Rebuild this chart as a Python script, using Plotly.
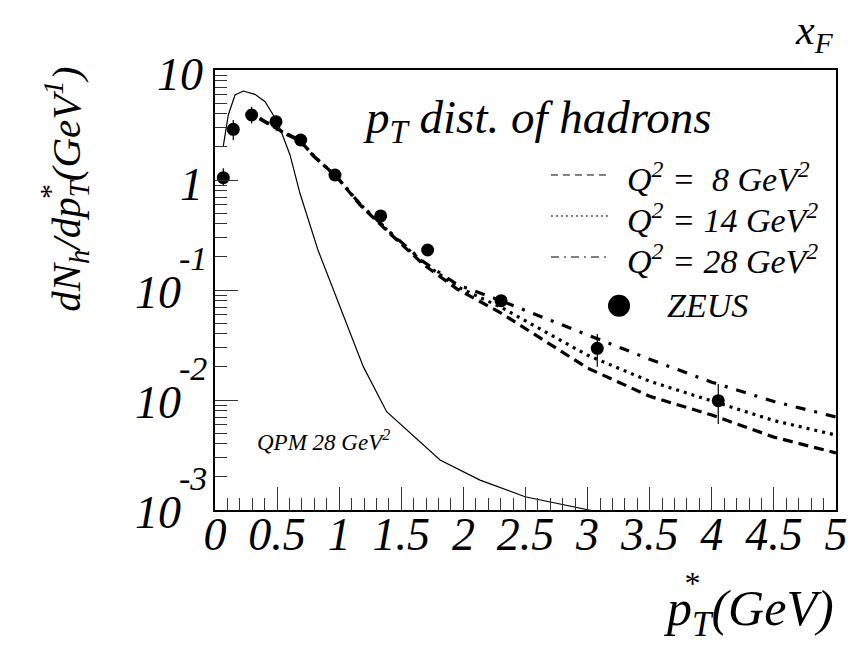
import plotly.graph_objects as go
import numpy as np

# ---------------- data ----------------
# ZEUS measured points
zeus_x = [0.067, 0.147, 0.295, 0.491, 0.690, 0.966, 1.334, 1.712, 2.303, 3.078, 4.052]
zeus_y = [1.05, 2.89, 3.90, 3.39, 2.31, 1.11, 0.471, 0.231, 0.080, 0.0295, 0.00986]
zeus_err_plus = [0.23, 0.62, 0.74, 0.45, 0.30, 0.12, 0.05, 0.02, 0.006, 0.0103, 0.0041]
zeus_err_minus = [0.15, 0.58, 0.63, 0.38, 0.25, 0.10, 0.04, 0.018, 0.005, 0.0094, 0.0038]

# model curves
curve_x = [0.36, 0.54, 0.68, 0.80, 0.98, 1.17, 1.41, 1.68, 1.95, 2.30, 3.0, 3.5, 4.0, 4.5, 5.0]
q2_8_y = [3.64, 2.75, 2.31, 1.63, 1.07, 0.59, 0.325, 0.170, 0.102, 0.062, 0.0195, 0.0108, 0.0073, 0.0046, 0.0033]
q2_14_y = [3.64, 2.75, 2.31, 1.63, 1.07, 0.60, 0.330, 0.176, 0.107, 0.070, 0.0255, 0.0148, 0.0098, 0.0065, 0.0048]
q2_28_y = [3.60, 2.72, 2.28, 1.62, 1.07, 0.60, 0.335, 0.180, 0.112, 0.080, 0.0390, 0.0235, 0.0145, 0.0097, 0.0070]

# QPM 28 GeV^2 curve
qpm_x = [0.067, 0.107, 0.161, 0.228, 0.322, 0.403, 0.469, 0.523, 0.604, 0.684, 0.829,
         1.006, 1.194, 1.382, 1.812, 2.134, 2.496, 2.993, 3.3]
qpm_y = [2.04, 3.90, 5.93, 6.44, 6.01, 5.15, 3.90, 2.95, 1.69, 0.757, 0.231,
         0.0705, 0.0201, 0.00783, 0.00285, 0.00187, 0.00132, 0.00101, 0.00085]

x_tick_vals = [0, 0.5, 1, 1.5, 2, 2.5, 3, 3.5, 4, 4.5, 5]
x_tick_text = ["0", "0.5", "1", "1.5", "2", "2.5", "3", "3.5", "4", "4.5", "5"]
y_decades = [1, 0, -1, -2, -3]

legend_labels = ["<i>Q<sup>2</sup> =  8 GeV<sup>2</sup></i>",
                 "<i>Q<sup>2</sup> = 14 GeV<sup>2</sup></i>",
                 "<i>Q<sup>2</sup> = 28 GeV<sup>2</sup></i>"]

FONT = "'Liberation Serif', 'Times New Roman', Times, 'DejaVu Serif', serif"

fig = go.Figure()

fig.add_trace(go.Scatter(x=qpm_x, y=qpm_y, mode="lines",
                         line=dict(color="black", width=1.2)))
fig.add_trace(go.Scatter(x=curve_x, y=q2_8_y, mode="lines",
                         line=dict(color="black", width=3.2, dash="10px,6px")))
fig.add_trace(go.Scatter(x=curve_x, y=q2_14_y, mode="lines",
                         line=dict(color="black", width=3.2, dash="3px,5px")))
fig.add_trace(go.Scatter(x=curve_x, y=q2_28_y, mode="lines",
                         line=dict(color="black", width=3.2, dash="10px,9px,3px,9px")))
fig.add_trace(go.Scatter(x=zeus_x, y=zeus_y, mode="markers",
                         marker=dict(color="black", size=13, symbol="circle"),
                         error_y=dict(type="data", symmetric=False, array=zeus_err_plus,
                                      arrayminus=zeus_err_minus, width=0,
                                      thickness=1.2, color="black")))

# minor tick positions for log axis
y_minor = [m * 10.0 ** e for e in range(-3, 1) for m in range(2, 10)]

fig.update_layout(
    width=853, height=646, autosize=False,
    margin=dict(l=215, r=17, t=70, b=136, pad=0),
    plot_bgcolor="white", paper_bgcolor="white",
    showlegend=False,
    xaxis=dict(range=[0, 5], tickmode="array", tickvals=x_tick_vals, ticktext=x_tick_text,
               ticks="inside", ticklen=23, tickwidth=1, tickcolor="#333",
               minor=dict(dtick=0.1, tick0=0, ticks="inside", ticklen=12,
                          tickwidth=1, tickcolor="#333"),
               showline=True, linecolor="black", linewidth=1.5, mirror=True,
               showgrid=False, zeroline=False, automargin=False, ticklabelstandoff=-17,
               tickfont=dict(family=FONT, size=46, style="italic", color="black")),
    yaxis=dict(type="log", range=[-3, 1], tickmode="array",
               tickvals=[10.0 ** d for d in y_decades],
               ticks="inside", ticklen=23, tickwidth=1, tickcolor="#333",
               minor=dict(tickmode="array", tickvals=y_minor, ticks="inside", ticklen=12,
                          tickwidth=1, tickcolor="#333"),
               showticklabels=False, automargin=False,
               showline=True, linecolor="black", linewidth=1.5, mirror=True,
               showgrid=False, zeroline=False),
)

ann = []
# y tick labels ROOT style
for d in y_decades:
    if d >= 0:
        ann.append(dict(x=-0.01, y=d, xref="paper", yref="y", text="<i>%d</i>" % (10 ** d),
                        xanchor="right", yanchor="middle", yshift=-4, xshift=-4, showarrow=False,
                        font=dict(family=FONT, size=46, color="black")))
    else:
        ann.append(dict(x=-0.01, y=d, xref="paper", yref="y", text="<i>10</i>",
                        xanchor="right", yanchor="middle", yshift=-2, xshift=-26, showarrow=False,
                        font=dict(family=FONT, size=46, color="black")))
        ann.append(dict(x=-0.01, y=d, xref="paper", yref="y", text="<i>%d</i>" % d,
                        xanchor="right", yanchor="middle", yshift=32, showarrow=False,
                        font=dict(family=FONT, size=34, color="black")))

# title inside frame
ann.append(dict(x=0.235, y=0.886, xref="paper", yref="paper",
                text="<i>p<sub>T</sub> dist. of hadrons</i>", xanchor="left", yanchor="middle",
                showarrow=False, font=dict(family=FONT, size=47, color="black")))
# x_F
ann.append(dict(x=1.0, y=1.085, xref="paper", yref="paper", text="<i>x<sub>F</sub></i>",
                xanchor="right", yanchor="middle", showarrow=False,
                font=dict(family=FONT, size=42, color="black")))
# QPM label
ann.append(dict(x=0.064, y=0.159, xref="paper", yref="paper", text="<i>QPM 28 GeV<sup>2</sup></i>",
                xanchor="left", yanchor="middle", showarrow=False,
                font=dict(family=FONT, size=23, color="black")))
# x axis title
ann.append(dict(x=1.0, y=-0.232, xref="paper", yref="paper", text="<i>p<sub>T</sub>(GeV)</i>",
                xanchor="right", yanchor="middle", showarrow=False,
                font=dict(family=FONT, size=50, color="black")))
ann.append(dict(x=0.766, y=-0.165, xref="paper", yref="paper", text="<i>*</i>",
                xanchor="center", yanchor="middle", showarrow=False,
                font=dict(family=FONT, size=32, color="black")))
# y axis title
ann.append(dict(x=-0.24, y=0.73, xref="paper", yref="paper",
                text="<i>dN<sub>h</sub>/dp<sub>T</sub>(GeV<sup>1</sup>)</i>",
                textangle=-90, xanchor="center", yanchor="middle", showarrow=False,
                font=dict(family=FONT, size=41, color="black")))
ann.append(dict(x=-0.267, y=0.72, xref="paper", yref="paper", text="<i>*</i>",
                textangle=-90, xanchor="center", yanchor="middle", showarrow=False,
                font=dict(family=FONT, size=30, color="black")))

# legend
leg_rows = [0.7614, 0.6682, 0.575]
leg_dash = ["7px,5px", "2px,3px", "8px,5px,2px,5px"]
shapes = []
for yy, dsh, lab in zip(leg_rows, leg_dash, legend_labels):
    shapes.append(dict(type="line", xref="paper", yref="paper", x0=0.541, x1=0.633, y0=yy, y1=yy,
                       line=dict(color="black", width=1, dash=dsh)))
    ann.append(dict(x=0.661, y=yy, xref="paper", yref="paper", text=lab, xanchor="left",
                    yanchor="middle", yshift=-2, showarrow=False,
                    font=dict(family=FONT, size=34, color="black")))
shapes.append(dict(type="circle", xref="paper", yref="paper", xsizemode="pixel", ysizemode="pixel",
                   xanchor=0.6506, yanchor=0.4643, x0=-11, x1=11, y0=-11, y1=11,
                   fillcolor="black", line=dict(color="black", width=0)))
ann.append(dict(x=0.7246, y=0.4643, xref="paper", yref="paper", text="<i>ZEUS</i>",
                xanchor="left", yanchor="middle", showarrow=False,
                font=dict(family=FONT, size=34, color="black")))

fig.update_layout(annotations=ann, shapes=shapes)
fig.write_html("out.html", config={"displayModeBar": False},
               post_script="document.body.style.margin='0';")
